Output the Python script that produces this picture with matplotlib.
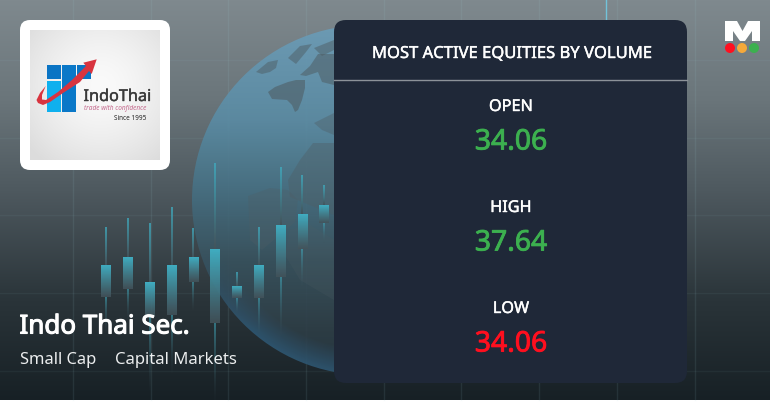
import numpy as np
import matplotlib
matplotlib.use("Agg")
import matplotlib.pyplot as plt
import matplotlib.patheffects as pe
from matplotlib.patches import Circle, Rectangle, FancyBboxPatch, Polygon

plt.rcParams["font.family"] = ["Noto Sans", "DejaVu Sans"]

WIDTH, HEIGHT = 770, 404
BANNER_H = 400

# candles (price scale is just 404 - pixel row)
wick_high = [177, 186, 181, 197, 176, 241, 132, 177, 237, 229, 219]
body_high = [139, 147, 122, 139, 147, 155, 118, 139, 179, 190, 199]
body_low = [107, 115, 87, 89, 122, 81, 106, 106, 127, 155, 181]
wick_low = [71, 84, 14, 31, 94, 4, 91, 68, 68, 116, 161]

stats_labels = ["OPEN", "HIGH", "LOW"]
stats_values = ["34.06", "37.64", "34.06"]
stats_colors = ["#3cb04f", "#3cb04f", "#ff0f1f"]

company = "Indo Thai Sec."
cap_label = "Small Cap"
sector_label = "Capital Markets"
card_title = "MOST ACTIVE EQUITIES BY VOLUME"


def vgrad(stops, rows):
    """Vertical colour ramp, stops are (row, (r, g, b))."""
    ys = np.arange(rows)
    pos = [s[0] for s in stops]
    cols = np.array([s[1] for s in stops], dtype=float)
    return np.stack([np.interp(ys, pos, cols[:, i]) for i in range(cols.shape[1])], axis=1)


def heavy(width, color):
    return [pe.withStroke(linewidth=width, foreground=color)]


fig = plt.figure(figsize=(WIDTH / 100, HEIGHT / 100), dpi=100, facecolor="white")
ax = fig.add_axes([0, 0, 1, 1])
ax.set_xlim(0, WIDTH)
ax.set_ylim(HEIGHT, 0)
ax.axis("off")

# background
bg = vgrad([(0, (127, 137, 142)), (100, (106, 117, 122)), (190, (78, 89, 95)),
            (300, (42, 52, 57)), (400, (23, 32, 37))], BANNER_H) / 255
ax.imshow(bg[:, None, :], extent=(0, WIDTH, BANNER_H, 0), aspect="auto", zorder=0)
for x in np.arange(73, WIDTH, 77.7):
    ax.plot([x, x], [0, BANNER_H], color="#9fd0d8", alpha=0.10, lw=1, zorder=1)
for y in np.arange(60, BANNER_H, 77.7):
    ax.plot([0, WIDTH], [y, y], color="#9fd0d8", alpha=0.06, lw=1, zorder=1)

# globe
cx, cy, r = 367, 200, 175
yy, xx = np.mgrid[0:BANNER_H, 0:WIDTH]
dist = np.hypot(xx + 0.5 - cx, yy + 0.5 - cy) / r
base = vgrad([(20, (108, 158, 186)), (120, (90, 140, 165)), (200, (68, 108, 126)),
              (260, (56, 82, 94)), (330, (46, 62, 71)), (380, (38, 54, 65))], BANNER_H) / 255
globe = np.zeros((BANNER_H, WIDTH, 4))
globe[..., :3] = base[yy]
rim = np.clip((dist - 0.85) / 0.15, 0, 1)[..., None]
rim_col = np.array([47, 88, 116]) / 255
low = np.clip((yy - 250) / 80, 0, 1)[..., None]
globe[..., :3] = globe[..., :3] * (1 - rim * low) + rim_col * rim * low
globe[..., 3] = 0.9
disc = Circle((cx, cy), r, transform=ax.transData)
im = ax.imshow(globe, extent=(0, WIDTH, BANNER_H, 0), aspect="auto", zorder=2)
im.set_clip_path(disc)

land = [
    ([(268, 92), (275, 87), (288, 82), (296, 80), (305, 80), (305, 88), (302, 100), (298, 110),
      (295, 112), (292, 105), (287, 100), (272, 99)], 0.6),
    ([(256, 72), (268, 62), (278, 60), (276, 68), (270, 72), (262, 74)], 0.5),
    ([(288, 58), (300, 46), (312, 44), (306, 52), (296, 64)], 0.5),
    ([(314, 48), (334, 40), (334, 50), (322, 56)], 0.5),
    ([(300, 75), (310, 66), (318, 54), (334, 54), (334, 85), (322, 82), (318, 72), (306, 76)], 0.55),
    ([(314, 123), (334, 113), (334, 135), (322, 130)], 0.4),
    ([(334, 143), (313, 143), (300, 160), (288, 180), (290, 197), (334, 215)], 0.4),
    ([(248, 196), (270, 188), (288, 190), (298, 200), (295, 222), (262, 250), (250, 240)], 0.3),
    ([(290, 230), (310, 225), (334, 240), (334, 300), (300, 280), (285, 255)], 0.2),
]
for pts, alpha in land:
    p = Polygon(pts, closed=True, facecolor="#4f5e65", alpha=alpha, edgecolor="none", zorder=3)
    ax.add_patch(p)
    p.set_clip_path(Circle((cx, cy), r, transform=ax.transData))

# candles get their own axes: index on x, price on y
cax = fig.add_axes([0, 0, 1, 1], facecolor="none")
cax.axis("off")
teal = (64, 172, 192)


def fade_bar(x, half, top, bottom, a_top, a_bot, z):
    ramp = np.zeros((32, 1, 4))
    t = np.linspace(0, 1, 32)
    ramp[:, 0, :3] = (np.array(teal) * (1 - t)[:, None] + np.array((68, 84, 92)) * t[:, None]) / 255
    ramp[:, 0, 3] = a_top + (a_bot - a_top) * t
    cax.imshow(ramp, extent=(x - half, x + half, bottom, top), aspect="auto", zorder=z,
               interpolation="bilinear")


for i in range(len(wick_high)):
    fade_bar(i, 0.035, wick_high[i], body_high[i], 0.75, 0.95, 4)
    fade_bar(i, 0.035, body_low[i], wick_low[i], 0.55, 0.04, 4)
    fade_bar(i, 0.215, body_high[i], body_low[i], 1.0, 0.85, 5)
cax.set_xlim((0 - 106) / 21.8, (WIDTH - 106) / 21.8)
cax.set_ylim(0, HEIGHT)

# front layer for card, logo and text
top = fig.add_axes([0, 0, 1, 1], facecolor="none")
top.set_xlim(0, WIDTH)
top.set_ylim(HEIGHT, 0)
top.axis("off")

top.plot([606, 606], [0, 20], color="#72c3da", lw=1, zorder=1)
top.add_patch(FancyBboxPatch((334, 20), 353, 363, boxstyle="round,pad=0,rounding_size=12",
                             mutation_scale=1, fc="#1f2838", ec="none", zorder=2))
top.plot([334, 687], [79.5, 79.5], color="#8c9299", lw=1, zorder=3)
top.text(511.5, 54, card_title, color="white", fontsize=11.95, ha="center", va="center", zorder=4,
         path_effects=heavy(0.3, "white"))

label_rows = [107, 208, 309]
value_rows = [142, 243, 344]
for lab, val, col, ly, vy in zip(stats_labels, stats_values, stats_colors, label_rows, value_rows):
    top.text(511, ly, lab, color="white", fontsize=11.7, ha="center", va="center", zorder=4,
             path_effects=heavy(0.3, "white"))
    top.text(511, vy, val, color=col, fontsize=20.4, ha="center", va="center", zorder=4,
             path_effects=heavy(0.6, col))

# logo tile
top.add_patch(FancyBboxPatch((20, 20), 150, 150, boxstyle="round,pad=0,rounding_size=10",
                             mutation_scale=1, fc="white", ec="none", zorder=2))
ly, lx = np.mgrid[0:130, 0:130]
shade = np.clip(np.hypot(lx - 70, ly - 55) / 95, 0, 1) ** 1.5
tile = (250 - 30 * shade)[..., None].repeat(3, axis=2) / 255
top.imshow(tile, extent=(30, 160, 160, 30), aspect="auto", zorder=3)
for (x0, y0, w, h, col) in [(46.5, 64.5, 14, 14.5, "#0a74c4"), (46.5, 81, 14, 31, "#0fb0ee"),
                            (62, 64.5, 13.5, 47.5, "#0a78c8"), (77, 64.5, 14, 14.5, "#0a74c4")]:
    top.add_patch(Rectangle((x0, y0), w, h, fc=col, ec="none", zorder=4))
swoosh = [(96.7, 59.3), (83.3, 62.7), (86, 66), (72, 80), (58, 92), (46, 100), (42, 99.5), (42, 95),
          (45.7, 86), (40, 93), (36.5, 100), (38, 103), (43, 105), (50, 102), (63, 93), (80, 82),
          (89, 71), (91.7, 74)]
top.add_patch(Polygon(swoosh, closed=True, fc="#d8343f", ec="none", zorder=5))
top.text(83.5, 97, "IndoThai", color="#3a3a3a", fontsize=11.7, ha="left", va="center", zorder=5,
         path_effects=heavy(0.3, "#3a3a3a"))
top.text(83.5, 108.5, "trade with confidence", color="#c4688c", fontsize=4.7, style="italic",
         ha="left", va="center", zorder=5)
top.text(114, 118.5, "Since 1995", color="#222222", fontsize=4.6, ha="left", va="center", zorder=5)

# company text
top.text(19.5, 327, company, color="white", fontsize=18.7, ha="left", va="center", zorder=6,
         path_effects=heavy(0.8, "white"))
top.text(20, 360, cap_label, color="#eceeef", fontsize=11.9, ha="left", va="center", zorder=6)
top.text(115, 360, sector_label, color="#eceeef", fontsize=12, ha="left", va="center", zorder=6)

# M badge
m_shape = [(725, 21), (737, 21), (742.5, 31), (748, 21), (760, 21), (760, 41), (752, 41), (752, 31),
           (745, 41), (740, 41), (733, 31), (733, 41), (725, 41)]
top.add_patch(Polygon(m_shape, closed=True, fc="white", ec="none", zorder=4))
for x, col in zip([730, 742, 754], ["#ff0f1f", "#f5a93b", "#3cb04f"]):
    top.add_patch(Circle((x, 48), 5, fc=col, ec="none", zorder=4))

fig.savefig("out.png", dpi=100, facecolor="white")
